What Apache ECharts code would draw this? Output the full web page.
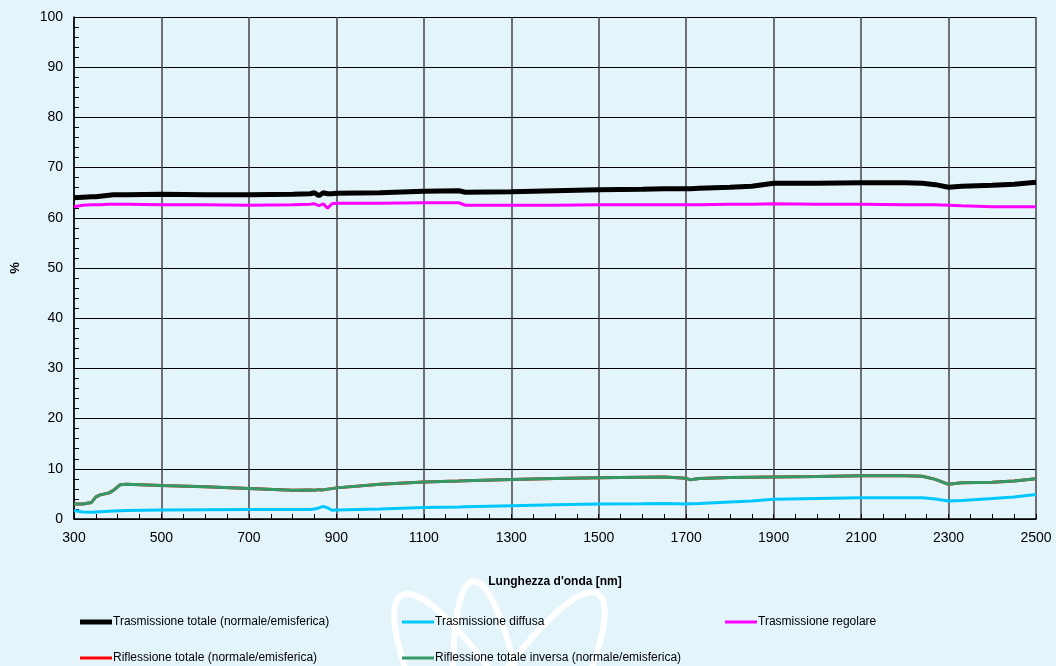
<!DOCTYPE html>
<html>
<head>
<meta charset="utf-8">
<title>Trasmissione / Riflessione</title>
<script src="https://cdn.jsdelivr.net/npm/echarts@6/dist/echarts.min.js"></script>
<style>
  html, body { margin: 0; padding: 0; background: #e4f4fb; }
  #chart { width: 1056px; height: 666px; }
</style>
</head>
<body>
<div id="chart"></div>
<script>
// lunghezze d'onda [nm]
const wavelengths = [300, 320, 340, 350, 360, 380, 390, 405, 420, 500, 600, 700, 800, 840, 850, 860, 870, 880, 890, 900,
  1000, 1100, 1180, 1195, 1300, 1400, 1500, 1600, 1650, 1700, 1710, 1730, 1800, 1850, 1900, 2000, 2100, 2200, 2240, 2270,
  2300, 2330, 2400, 2450, 2500];

const trasmTotale = [64.0, 64.1, 64.2, 64.2, 64.3, 64.5, 64.6, 64.6, 64.6, 64.7, 64.6, 64.6, 64.7, 64.8, 65.0, 64.4, 65.0, 64.8, 64.8, 64.9,
  65.0, 65.3, 65.4, 65.1, 65.2, 65.4, 65.6, 65.7, 65.8, 65.8, 65.8, 65.9, 66.1, 66.3, 66.9, 66.9, 67.0, 67.0, 66.9, 66.6,
  66.1, 66.3, 66.5, 66.7, 67.1];

const trasmDiffusa = [1.7, 1.4, 1.35, 1.4, 1.45, 1.55, 1.6, 1.65, 1.7, 1.8, 1.85, 1.9, 1.9, 1.9, 2.0, 2.2, 2.5, 2.2, 1.75, 1.8,
  2.0, 2.3, 2.4, 2.45, 2.65, 2.85, 3.0, 3.05, 3.1, 3.0, 3.05, 3.1, 3.4, 3.6, 3.95, 4.1, 4.25, 4.25, 4.25, 4.0,
  3.6, 3.7, 4.1, 4.4, 4.9];

const trasmRegolare = [62.2, 62.5, 62.6, 62.6, 62.6, 62.7, 62.7, 62.7, 62.7, 62.6, 62.6, 62.5, 62.6, 62.7, 62.8, 62.4, 62.8, 61.9, 62.8, 62.9,
  62.9, 63.0, 63.0, 62.5, 62.5, 62.5, 62.6, 62.6, 62.6, 62.6, 62.6, 62.6, 62.7, 62.7, 62.8, 62.7, 62.7, 62.6, 62.6, 62.6,
  62.5, 62.4, 62.2, 62.2, 62.2];

const riflTotale = [3.0, 3.0, 3.3, 4.4, 4.8, 5.2, 5.7, 6.8, 6.9, 6.65, 6.4, 6.1, 5.75, 5.8, 5.75, 5.85, 5.8, 5.95, 6.05, 6.2,
  6.9, 7.35, 7.55, 7.6, 7.85, 8.05, 8.2, 8.3, 8.35, 8.1, 7.8, 8.05, 8.25, 8.3, 8.35, 8.45, 8.6, 8.6, 8.5, 7.9,
  6.9, 7.2, 7.3, 7.55, 8.0];

const riflInversa = [3.0, 3.0, 3.3, 4.4, 4.8, 5.2, 5.7, 6.8, 6.9, 6.65, 6.4, 6.1, 5.75, 5.8, 5.75, 5.85, 5.8, 5.95, 6.05, 6.2,
  6.9, 7.35, 7.55, 7.6, 7.85, 8.05, 8.2, 8.3, 8.35, 8.1, 7.8, 8.05, 8.25, 8.3, 8.35, 8.45, 8.6, 8.6, 8.5, 7.9,
  6.9, 7.2, 7.3, 7.55, 8.0];

const seriesDefs = [
  { name: 'Trasmissione totale (normale/emisferica)', values: trasmTotale, color: '#000000', width: 5 },
  { name: 'Trasmissione diffusa', values: trasmDiffusa, color: '#00c8ff', width: 3 },
  { name: 'Trasmissione regolare', values: trasmRegolare, color: '#ff00ff', width: 3 },
  { name: 'Riflessione totale (normale/emisferica)', values: riflTotale, color: '#ff0000', width: 3 },
  { name: 'Riflessione totale inversa (normale/emisferica)', values: riflInversa, color: '#339966', width: 3 }
];

// posizione delle voci di legenda
const legendPos = [[80, 624], [402, 624], [725, 624], [80, 660], [402, 660]];

const chart = echarts.init(document.getElementById('chart'));
const font = '"Liberation Sans", Arial, sans-serif';

const legends = seriesDefs.map((s, i) => ({
  data: [s.name],
  left: legendPos[i][0],
  top: legendPos[i][1] - 8,
  icon: 'rect',
  itemWidth: 32,
  itemHeight: i === 0 ? 5 : 3,
  padding: 0,
  selectedMode: false,
  textStyle: { fontFamily: font, fontSize: 12, color: '#000', padding: [0, 0, 0, -4] }
}));

// logo in filigrana (atomo) dietro la legenda
const atomStyle = { fill: 'none', stroke: '#ffffff', lineWidth: 6 };

chart.setOption({
  backgroundColor: '#e4f4fb',
  animation: false,
  graphic: [
    { type: 'ellipse', x: 495, y: 762, rotation: 0.12, z: -10, silent: true,
      shape: { cx: 0, cy: 0, rx: 36, ry: 182 }, style: atomStyle },
    { type: 'ellipse', x: 497, y: 762, rotation: 0.52, z: -10, silent: true,
      shape: { cx: 0, cy: 0, rx: 44, ry: 192 }, style: atomStyle },
    { type: 'ellipse', x: 497, y: 762, rotation: -0.54, z: -10, silent: true,
      shape: { cx: 0, cy: 0, rx: 44, ry: 196 }, style: atomStyle }
  ],
  legend: legends,
  grid: { left: 74, right: 20, top: 17, bottom: 147 },
  xAxis: {
    type: 'value',
    min: 300,
    max: 2500,
    interval: 200,
    name: "Lunghezza d'onda [nm]",
    nameLocation: 'middle',
    nameGap: 57,
    nameTextStyle: { fontFamily: font, fontSize: 12, fontWeight: 'bold', color: '#000' },
    axisLine: { lineStyle: { color: '#000', width: 1.5 } },
    axisTick: { show: true, inside: true, length: 5, lineStyle: { color: '#000' } },
    minorTick: { show: true, splitNumber: 4, length: 5, lineStyle: { color: '#000' } },
    axisLabel: { fontFamily: font, fontSize: 14, color: '#000', margin: 12, formatter: v => String(v) },
    splitLine: { show: true, lineStyle: { color: '#444', width: 1.5 } }
  },
  yAxis: {
    type: 'value',
    min: 0,
    max: 100,
    interval: 10,
    name: '%',
    nameLocation: 'middle',
    nameGap: 52,
    nameRotate: 90,
    nameTextStyle: { fontFamily: font, fontSize: 13, fontWeight: 'bold', color: '#000' },
    axisLine: { show: true, lineStyle: { color: '#000', width: 1.5 } },
    axisTick: { show: true, inside: true, length: 5, lineStyle: { color: '#000' } },
    minorTick: { show: true, splitNumber: 5, length: 5, lineStyle: { color: '#000' } },
    axisLabel: { fontFamily: font, fontSize: 14, color: '#000', margin: 11 },
    splitLine: { show: true, lineStyle: { color: '#000', width: 1 } }
  },
  series: seriesDefs.map((s, i) => ({
    name: s.name,
    type: 'line',
    data: wavelengths.map((w, k) => [w, s.values[k]]),
    showSymbol: false,
    symbol: 'none',
    smooth: false,
    z: 2 + i,
    color: s.color,
    lineStyle: { color: s.color, width: s.width }
  }))
});
</script>
</body>
</html>
